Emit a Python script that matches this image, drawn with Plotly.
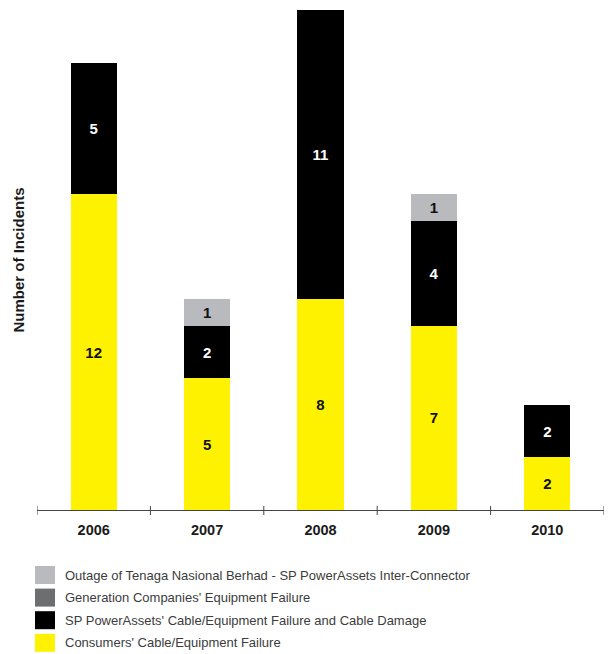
import plotly.graph_objects as go

# Incident counts by year and cause
years = ["2006", "2007", "2008", "2009", "2010"]
consumers = [12, 5, 8, 7, 2]
sp_powerassets = [5, 2, 11, 4, 2]
generation = [0, 0, 0, 0, 0]
outage_tnb = [0, 1, 0, 1, 0]

series = [
    ("Consumers' Cable/Equipment Failure", consumers, "#fff200", "#111111"),
    ("SP PowerAssets' Cable/Equipment Failure and Cable Damage", sp_powerassets, "#000000", "#ffffff"),
    ("Generation Companies' Equipment Failure", generation, "#6d6e70", "#ffffff"),
    ("Outage of Tenaga Nasional Berhad - SP PowerAssets Inter-Connector", outage_tnb, "#b9babd", "#111111"),
]

FONT = "Liberation Sans, Arial, Helvetica, sans-serif"
W, H = 611, 654
M_L, M_R, M_T, M_B = 37, 7, 10, 144
plot_h = H - M_T - M_B
plot_w = W - M_L - M_R

fig = go.Figure()
for name, vals, color, tcolor in series:
    fig.add_trace(go.Bar(
        x=years, y=vals, name=name,
        marker=dict(color=color, line=dict(width=0)),
        text=[str(v) if v else "" for v in vals],
        textposition="inside", insidetextanchor="middle",
        textfont=dict(family=FONT, size=15, color=tcolor, weight="bold"),
        textangle=0, showlegend=False,
    ))

# Tick marks at category boundaries, crossing the axis line
shapes = []
for i in range(len(years) + 1):
    shapes.append(dict(type="line", xref="x", yref="paper",
                       x0=i - 0.5, x1=i - 0.5, y0=-5 / plot_h, y1=4 / plot_h,
                       line=dict(color="#444444", width=1)))

# Custom legend with large swatches below the chart
def py(p):
    return (H - M_B - p) / plot_h

def px(p):
    return (p - M_L) / plot_w

annotations = []
legend_rows = list(reversed(series))
for k, (name, vals, color, tcolor) in enumerate(legend_rows):
    top = 566 + k * 22.6
    shapes.append(dict(type="rect", xref="paper", yref="paper",
                       x0=px(35), x1=px(55), y0=py(top + 18), y1=py(top),
                       fillcolor=color, line=dict(width=0)))
    annotations.append(dict(xref="paper", yref="paper",
                            x=px(63), y=py(top + 9),
                            xanchor="left", yanchor="middle", showarrow=False,
                            text=name, font=dict(family=FONT, size=13, color="#3c3c3c")))

fig.update_layout(
    barmode="stack",
    bargap=0.594,
    width=W, height=H,
    margin=dict(l=M_L, r=M_R, t=M_T, b=M_B),
    plot_bgcolor="white", paper_bgcolor="white",
    font=dict(family=FONT),
    shapes=shapes, annotations=annotations,
    xaxis=dict(
        type="category", range=[-0.5, 4.5],
        showline=True, linecolor="#444444", linewidth=1,
        ticks="", showgrid=False, zeroline=False,
        tickfont=dict(family=FONT, size=14.5, color="#1a1a1a", weight="bold"),
        ticklabelstandoff=7,
    ),
    yaxis=dict(
        range=[0, 19], showticklabels=False, showgrid=False, zeroline=False,
        showline=False, ticks="",
        title=dict(text="Number of Incidents", standoff=7,
                   font=dict(family=FONT, size=15, color="#1a1a1a", weight="bold")),
    ),
)

fig.write_html("out.html")
